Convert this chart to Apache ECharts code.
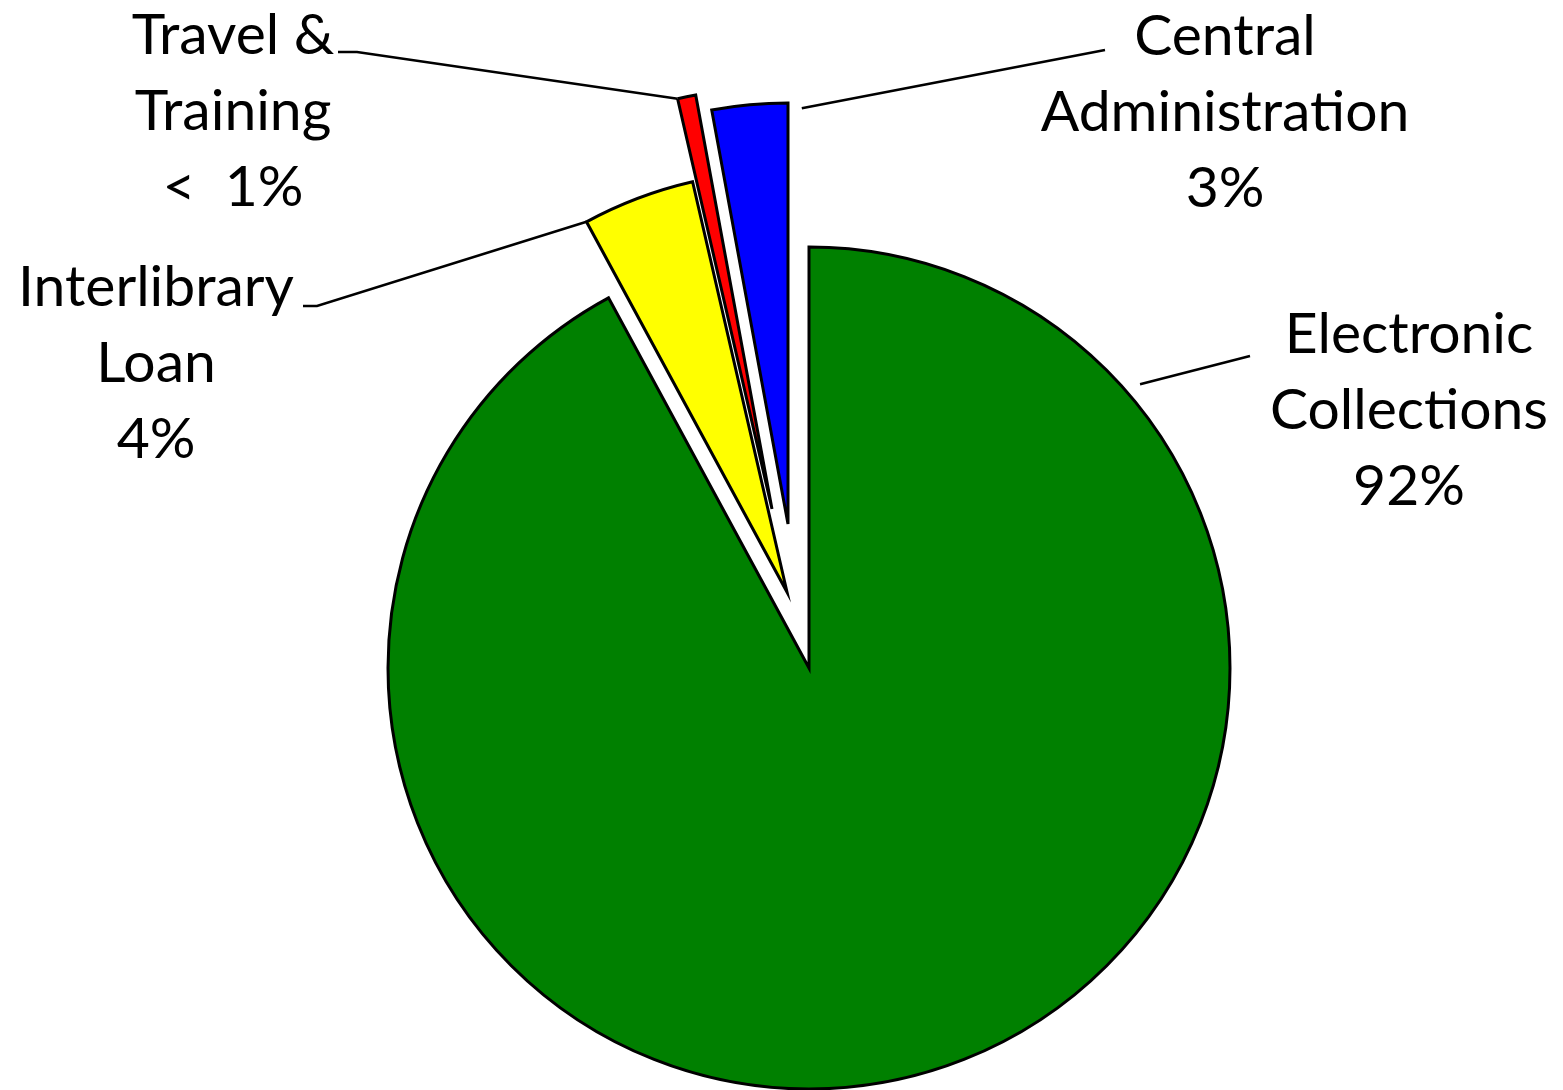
<!DOCTYPE html>
<html>
<head>
<meta charset="utf-8">
<script src="https://cdn.jsdelivr.net/npm/echarts@6/dist/echarts.min.js"></script>
<style>
html,body{margin:0;padding:0;background:#fff;}
#chart{width:1563px;height:1090px;}
</style>
</head>
<body>
<div id="chart"></div>
<script>
// ---- data ----
const categories = ['Electronic Collections', 'Interlibrary Loan', 'Travel & Training', 'Central Administration'];
const labelNames = ['Electronic\nCollections', 'Interlibrary\nLoan', 'Travel &\nTraining', 'Central\nAdministration'];
const percentLabels = ['92%', '4%', '<  1%', '3%'];
const values = [92.1, 4.3, 0.7, 2.9];
const colors = ['#008000', '#ffff00', '#ff0000', '#0000ff'];

// ---- layout (positions / sizes) ----
const R = 421;
const CENTERS = [[809, 668], [787, 592], [772, 509], [788, 524]];   // exploded slice centres
const LABEL_CENTERS = [[1409, 411], [156, 364], [233, 112], [1225, 113]];
// leader line: start either at the slice's leading corner, or at a clock angle/distance from its centre
const LEADER_START = [
  { clock: 49.4, dist: 436 },
  { corner: true },
  { corner: true },
  { clock: 1.9, dist: 416 }
];
const LEADER_END = [
  [[1250, 356]],
  [[317, 306], [303, 306]],
  [[357, 52], [338, 52]],
  [[1105, 50]]
];

const total = values.reduce((a, b) => a + b, 0);
function sliceStartClock(i) {
  let s = 0;
  for (let j = 0; j < i; j++) s += values[j];
  return 360 * s / total;
}
function pointAt(i, clockDeg, dist) {
  const a = clockDeg * Math.PI / 180;
  return [CENTERS[i][0] + dist * Math.sin(a), CENTERS[i][1] - dist * Math.cos(a)];
}
function leaderPoints(i) {
  const s = LEADER_START[i];
  const start = s.corner ? pointAt(i, sliceStartClock(i), R) : pointAt(i, s.clock, s.dist);
  return [start].concat(LEADER_END[i]);
}

const chart = echarts.init(document.getElementById('chart'), null, { renderer: 'canvas' });

const series = values.map((_, k) => ({
  type: 'pie',
  center: CENTERS[k],
  radius: R,
  startAngle: 90,
  clockwise: true,
  avoidLabelOverlap: false,
  silent: true,
  animation: false,
  emphasis: { disabled: true },
  z: 2 + k,
  data: categories.map((name, i) => ({
    name: name,
    value: values[i],
    itemStyle: i === k
      ? { color: colors[i], borderColor: '#000', borderWidth: 3, borderJoin: 'miter' }
      : { color: 'rgba(0,0,0,0)', borderWidth: 0 },
    label: i === k
      ? {
          show: true,
          position: 'outside',
          formatter: labelNames[i] + '\n' + percentLabels[i],
          fontFamily: 'Lato',
          fontSize: 57,
          lineHeight: 76,
          color: '#000',
          align: 'center'
        }
      : { show: false },
    labelLine: i === k
      ? { show: true, lineStyle: { color: '#000', width: 2.5 } }
      : { show: false }
  })),
  labelLayout: function (p) {
    if (p.dataIndex !== k) return {};
    return {
      x: LABEL_CENTERS[k][0],
      y: LABEL_CENTERS[k][1],
      align: 'center',
      verticalAlign: 'middle',
      labelLinePoints: leaderPoints(k)
    };
  }
}));

chart.setOption({
  backgroundColor: '#fff',
  animation: false,
  series: series
});
</script>
</body>
</html>
